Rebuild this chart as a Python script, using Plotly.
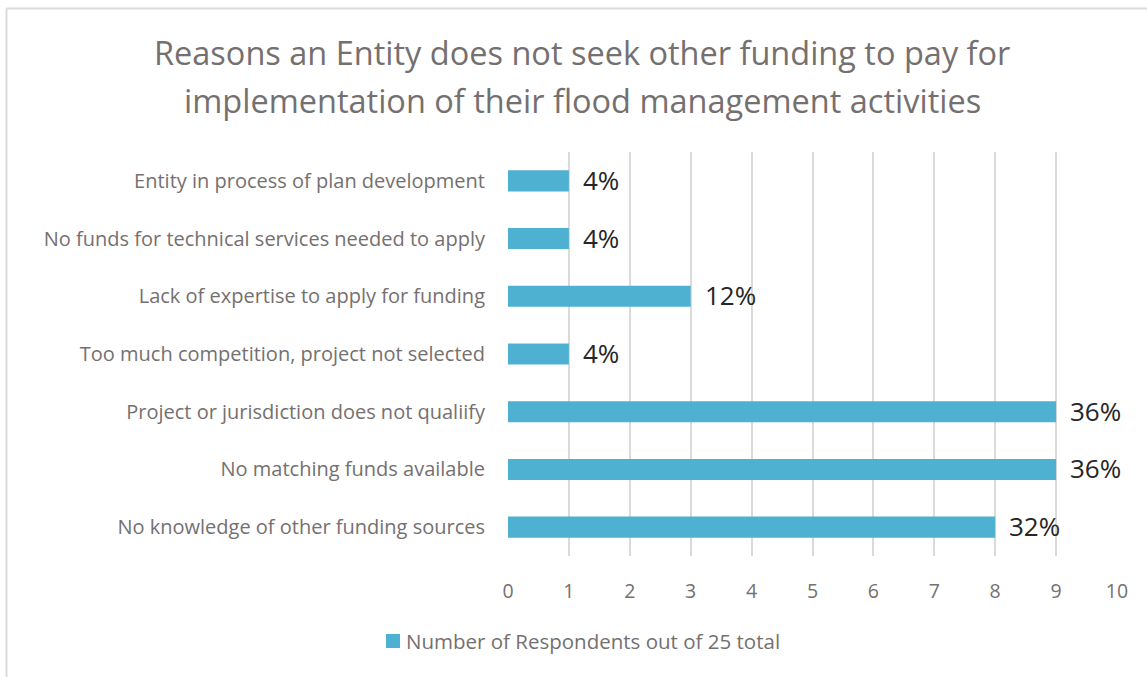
import plotly.graph_objects as go

# Survey results: reasons for not seeking other funding
categories = [
    "Entity in process of plan development",
    "No funds for technical services needed to apply",
    "Lack of expertise to apply for funding",
    "Too much competition, project not selected",
    "Project or jurisdiction does not qualiify",
    "No matching funds available",
    "No knowledge of other funding sources",
]
respondents = [1, 1, 3, 1, 9, 9, 8]
total_respondents = 25
x_ticks = list(range(0, 11))

series_name = "Number of Respondents out of 25 total"
title_lines = [
    "Reasons an Entity does not seek other funding to pay for",
    "implementation of their flood management activities",
]

W, H = 1147, 677
L, R, T, B = 508, 1117, 152, 556  # plot-area pixel box

BAR = "#4FB1D2"
TEXT = "#757070"
LABEL = "#262626"
GRID = "#dcd9d9"
FONT = "Open Sans, sans-serif"


def px_x(p):
    return (p - L) / (R - L)


def px_y(p):
    return (B - p) / (B - T)


fig = go.Figure()
fig.add_trace(go.Bar(
    y=categories,
    x=respondents,
    orientation="h",
    name=series_name,
    marker=dict(color=BAR, line=dict(width=0)),
    showlegend=False,
))

# Percentage labels to the right of each bar
for cat, v in zip(categories, respondents):
    fig.add_annotation(
        x=v, y=cat, xref="x", yref="y",
        text=f"{v / total_respondents:.0%}",
        showarrow=False, xanchor="left", yanchor="middle",
        xshift=12, yshift=1,
        font=dict(family=FONT, size=26, color=LABEL),
    )

# Two-line chart title
for text, ypix in zip(title_lines, [52, 100]):
    fig.add_annotation(
        x=px_x(582), y=px_y(ypix), xref="paper", yref="paper",
        text=text, showarrow=False, xanchor="center", yanchor="middle",
        font=dict(family=FONT, size=32.5, color=TEXT),
    )

# Legend: swatch + series name
fig.add_shape(type="rect", xref="paper", yref="paper",
              x0=px_x(386), x1=px_x(400), y0=px_y(648), y1=px_y(634),
              fillcolor=BAR, line=dict(width=0))
fig.add_annotation(
    x=px_x(404), y=px_y(641), xref="paper", yref="paper",
    text=series_name, showarrow=False, xanchor="left", yanchor="middle",
    font=dict(family=FONT, size=20.5, color=TEXT),
)

# Chart frame (left and top edges)
fig.add_shape(type="line", xref="paper", yref="paper",
              x0=px_x(6.5), x1=px_x(W + 5), y0=px_y(8.5), y1=px_y(8.5),
              line=dict(color="#dedada", width=2))
fig.add_shape(type="line", xref="paper", yref="paper",
              x0=px_x(6.5), x1=px_x(6.5), y0=px_y(8.5), y1=px_y(H + 5),
              line=dict(color="#dedada", width=2))

fig.update_layout(
    width=W, height=H,
    margin=dict(l=L, r=W - R, t=T, b=H - B, pad=0),
    paper_bgcolor="white", plot_bgcolor="white",
    bargap=0.635,
    font=dict(family=FONT, color=TEXT),
    showlegend=False,
    xaxis=dict(
        range=[0, 10], tickvals=x_ticks,
        showgrid=True, gridcolor=GRID, gridwidth=2,
        zeroline=False, showline=False,
        ticks="", ticklabelstandoff=21,
        tickfont=dict(family=FONT, size=19.5, color=TEXT),
        fixedrange=True,
    ),
    yaxis=dict(
        categoryorder="array", categoryarray=categories,
        autorange="reversed",
        showgrid=False, zeroline=False, showline=False,
        ticks="", ticklabelstandoff=22,
        tickfont=dict(family=FONT, size=20, color=TEXT),
    ),
)

fig.write_html("out.html")
